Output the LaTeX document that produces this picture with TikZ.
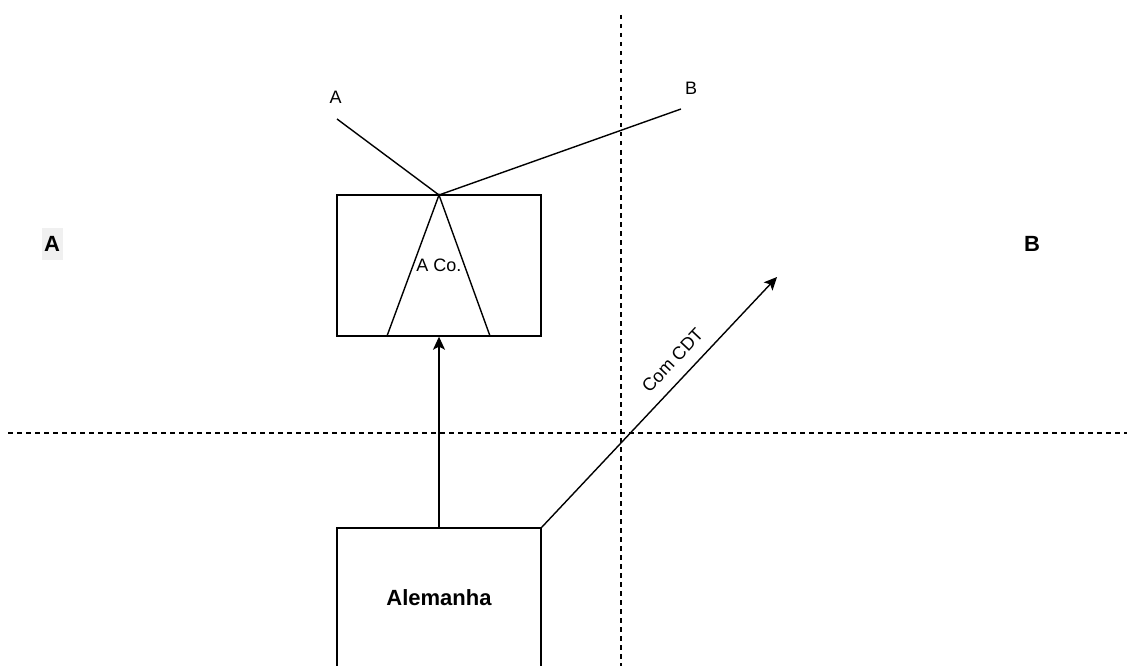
\documentclass[tikz,border=0pt]{standalone}
\usepackage{fontspec}
\setmainfont{Liberation Sans}
\usetikzlibrary{arrows.meta}
\begin{document}
\begin{tikzpicture}[x=1pt,y=-1pt,
  line width=1.4pt,
  txt/.style={font=\fontsize{18}{21}\selectfont, inner sep=0pt},
  bigtxt/.style={font=\fontsize{22}{25}\selectfont\bfseries, inner sep=0pt},
  box/.style={draw, minimum width=204pt, minimum height=141pt, inner sep=0pt},
  guide/.style={line width=1.1pt, dash pattern=on 4.5pt off 4.5pt},
  arr/.style={-{Stealth[length=13pt,width=12pt,inset=3pt]}}
]
\useasboundingbox[fill=white] (0,0) rectangle (1127,666);

% dashed guides
\coordinate (vtop) at (621,15);
\coordinate (vbot) at (621,670);
\coordinate (hl) at (8,433);
\coordinate (hr) at (1130,433);
\draw[guide] (vtop) -- (vbot);
\draw[guide] (hl) -- (hr);

% boxes
\node[box, txt] (aco) at (439,265.5) {A Co.};
\node[box, minimum height=140pt, bigtxt] (alem) at (439,598) {Alemanha};

% triangle and view lines
\coordinate (apex) at (439,195);
\coordinate (bl) at (387,336);
\coordinate (br) at (490,336);
\draw (bl) -- (apex) -- (br);
\coordinate (aend) at (337,119);
\coordinate (bend) at (681,109);
\draw (aend) -- (apex) -- (bend);
\node[txt] (alab) at (335.5,97) {A};
\node[txt] (blab) at (691,88) {B};

% arrows
\draw[arr] (alem.north) -- (aco.south);
\coordinate (cdtend) at (777,277);
\draw[arr] (alem.north east) -- node[txt, sloped, pos=0.615, above=19pt, anchor=center] (cdt) {Com CDT} (cdtend);

% side labels
\node[bigtxt, fill=black!6, minimum width=21pt, minimum height=32pt] (sideA) at (52,244) {A};
\node[bigtxt] (sideB) at (1032,244) {B};
\end{tikzpicture}
\end{document}
